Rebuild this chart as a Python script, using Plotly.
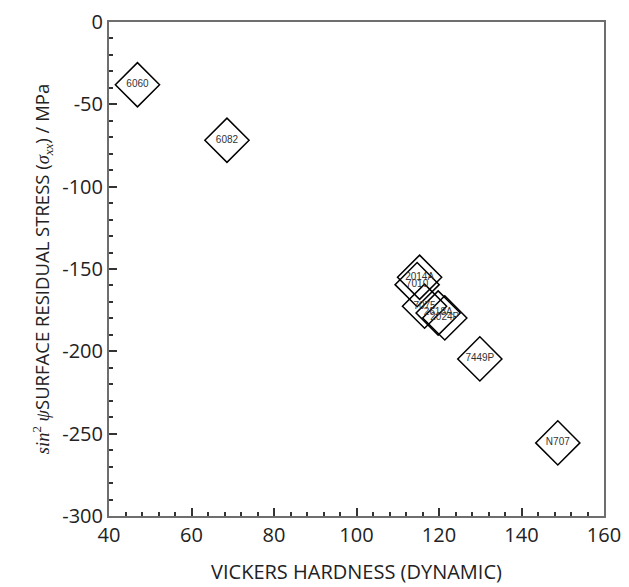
import plotly.graph_objects as go

alloys = ["6060", "6082", "2014A", "7010", "7075", "2618A", "2024P", "7449P", "N707"]
hardness = [46.9, 68.6, 115.3, 114.7, 116.5, 119.8, 121.4, 129.9, 148.8]
stress = [-38.1, -71.8, -155.0, -159.5, -172.6, -176.7, -179.7, -204.6, -255.6]

x_ticks = [40, 60, 80, 100, 120, 140, 160]
y_ticks = [0, -50, -100, -150, -200, -250, -300]
y_tick_text = ["0", "-50", "-100", "-150", "-200", "-250", "-300"]

fig = go.Figure()
fig.add_trace(go.Scatter(
    x=hardness, y=stress, mode="markers+text",
    text=alloys, textposition="middle center",
    textfont=dict(family="Liberation Sans, Arial", size=10, color="#333333"),
    marker=dict(symbol="diamond-open", size=34, color="black",
                line=dict(color="black", width=1.5)),
    showlegend=False, hoverinfo="skip",
))

axis_common = dict(
    showline=True, linecolor="#6e6e6e", linewidth=2, mirror=True,
    ticks="inside", ticklen=8, tickwidth=1.5, tickcolor="#333333",
    showgrid=False, zeroline=False, automargin=False,
    tickfont=dict(family="Open Sans, Noto Sans", size=20, color="#222222"),
)

fig.update_layout(
    width=629, height=587,
    margin=dict(l=101, r=33, t=14, b=79),
    paper_bgcolor="white", plot_bgcolor="white",
    xaxis=dict(range=[40, 160], tickvals=x_ticks,
               minor=dict(dtick=4, ticks="inside", ticklen=4, tickcolor="#333333", tickwidth=1.5),
               title=dict(text="VICKERS HARDNESS (DYNAMIC)",
                          font=dict(family="Open Sans, Noto Sans", size=20, color="#222222"),
                          standoff=18),
               **axis_common),
    yaxis=dict(range=[-300, 0], tickvals=y_ticks, ticktext=y_tick_text,
               minor=dict(dtick=10, ticks="inside", ticklen=4, tickcolor="#333333", tickwidth=1.5),
               title=dict(text="<span style='font-family:Liberation Serif'><i>sin</i><sup>2</sup> <i>ψ</i></span>SURFACE RESIDUAL STRESS (<span style='font-family:Liberation Serif'><i>σ</i><sub><i>xx</i></sub></span>) / MPa",
                          font=dict(family="Open Sans, Noto Sans", size=18.5, color="#222222"),
                          standoff=8),
               **axis_common),
)

fig.write_html("out.html")
